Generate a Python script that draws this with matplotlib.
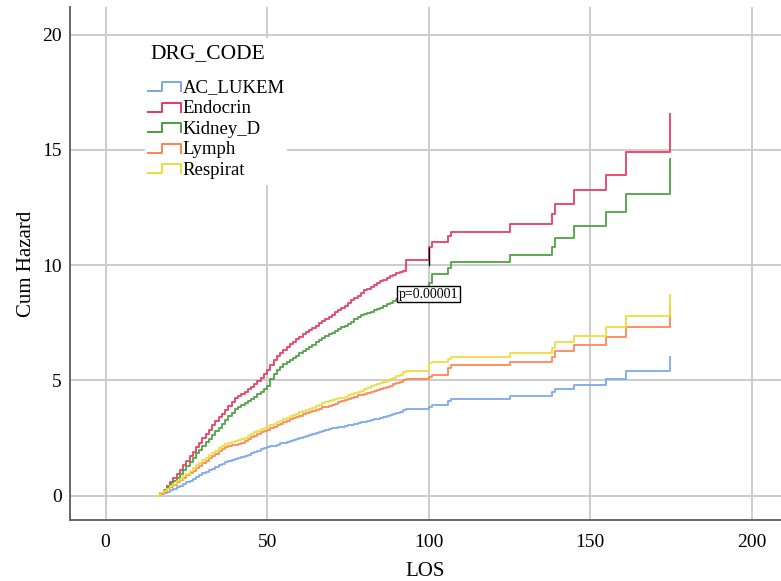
"""Cumulative hazard by DRG code (step curves)."""

import matplotlib

matplotlib.use("Agg")
import matplotlib.pyplot as plt
from matplotlib.legend_handler import HandlerBase
from matplotlib.lines import Line2D
from matplotlib.patches import Rectangle

plt.rcParams["font.family"] = ["Liberation Serif", "DejaVu Serif"]

# step times: daily up to day 93, then the sparse tail
los = list(range(16, 94)) + [100, 101, 106, 107, 125, 138, 139, 145, 155, 161, 174.6]

ac_lukem = [0, 0.06, 0.12, 0.18, 0.24, 0.3, 0.37, 0.43, 0.5, 0.58,
            0.66, 0.74, 0.82, 0.9, 0.97, 1.03, 1.1, 1.18, 1.25, 1.33,
            1.4, 1.45, 1.5, 1.55, 1.6, 1.64, 1.68, 1.73, 1.78, 1.84,
            1.9, 1.96, 2.02, 2.06, 2.1, 2.14, 2.18, 2.22, 2.27, 2.31,
            2.35, 2.39, 2.43, 2.48, 2.52, 2.56, 2.6, 2.65, 2.7, 2.74,
            2.78, 2.82, 2.86, 2.89, 2.92, 2.95, 2.97, 3.0, 3.03, 3.05,
            3.08, 3.11, 3.14, 3.18, 3.22, 3.25, 3.28, 3.31, 3.35, 3.38,
            3.42, 3.46, 3.5, 3.55, 3.6, 3.65, 3.7, 3.75,
            3.87, 3.95, 4.09, 4.18, 4.31, 4.48, 4.63, 4.81, 5.06, 5.42, 6.0]
endocrin = [0, 0.12, 0.25, 0.42, 0.6, 0.76, 0.93, 1.13, 1.33, 1.52,
            1.73, 1.92, 2.12, 2.3, 2.5, 2.68, 2.87, 3.06, 3.25, 3.4,
            3.55, 3.73, 3.9, 4.06, 4.22, 4.32, 4.42, 4.52, 4.62, 4.73,
            4.85, 4.98, 5.12, 5.28, 5.45, 5.68, 5.9, 6.05, 6.2, 6.33,
            6.45, 6.58, 6.69, 6.8, 6.9, 7.0, 7.1, 7.2, 7.28, 7.38,
            7.48, 7.58, 7.68, 7.76, 7.85, 7.95, 8.05, 8.15, 8.25, 8.36,
            8.48, 8.56, 8.65, 8.8, 8.93, 8.99, 9.05, 9.14, 9.22, 9.3,
            9.38, 9.45, 9.52, 9.59, 9.65, 9.7, 9.75, 10.23,
            10.8, 11.0, 11.25, 11.46, 11.8, 12.2, 12.65, 13.27, 13.9, 14.9, 16.55]
kidney_d = [0, 0.1, 0.22, 0.36, 0.5, 0.64, 0.78, 0.95, 1.12, 1.3,
            1.48, 1.66, 1.84, 2.0, 2.15, 2.32, 2.48, 2.65, 2.82, 2.96,
            3.1, 3.28, 3.45, 3.6, 3.75, 3.85, 3.95, 4.04, 4.12, 4.21,
            4.3, 4.4, 4.5, 4.62, 4.75, 5.05, 5.3, 5.45, 5.6, 5.7,
            5.8, 5.89, 5.97, 6.08, 6.18, 6.28, 6.38, 6.46, 6.55, 6.65,
            6.75, 6.85, 6.95, 7.02, 7.08, 7.15, 7.22, 7.3, 7.38, 7.46,
            7.55, 7.65, 7.75, 7.82, 7.88, 7.93, 7.97, 8.04, 8.1, 8.16,
            8.22, 8.3, 8.38, 8.46, 8.53, 8.56, 8.58, 8.6,
            9.22, 9.63, 9.87, 10.12, 10.45, 10.77, 11.2, 11.68, 12.3, 13.1, 14.6]
lymph = [0, 0.09, 0.18, 0.28, 0.38, 0.48, 0.58, 0.68, 0.78, 0.88,
         0.98, 1.09, 1.2, 1.31, 1.42, 1.52, 1.62, 1.72, 1.83, 1.94,
         2.05, 2.1, 2.15, 2.19, 2.22, 2.25, 2.28, 2.37, 2.45, 2.53,
         2.6, 2.68, 2.75, 2.8, 2.85, 2.92, 2.98, 3.05, 3.12, 3.19,
         3.25, 3.31, 3.37, 3.42, 3.48, 3.53, 3.58, 3.63, 3.68, 3.73,
         3.78, 3.83, 3.87, 3.91, 3.95, 4.0, 4.05, 4.1, 4.15, 4.2,
         4.25, 4.3, 4.36, 4.39, 4.42, 4.45, 4.48, 4.53, 4.58, 4.62,
         4.66, 4.72, 4.78, 4.84, 4.9, 4.95, 5.0, 5.05,
         5.17, 5.25, 5.54, 5.68, 5.82, 6.04, 6.29, 6.55, 6.88, 7.34, 8.18]
respirat = [0, 0.1, 0.2, 0.31, 0.42, 0.52, 0.63, 0.74, 0.85, 0.96,
            1.08, 1.2, 1.32, 1.44, 1.55, 1.65, 1.75, 1.85, 1.95, 2.07,
            2.18, 2.24, 2.3, 2.34, 2.38, 2.41, 2.45, 2.52, 2.6, 2.68,
            2.75, 2.83, 2.9, 2.95, 3.0, 3.06, 3.12, 3.18, 3.25, 3.32,
            3.38, 3.44, 3.5, 3.56, 3.62, 3.67, 3.72, 3.77, 3.82, 3.88,
            3.95, 4.02, 4.08, 4.12, 4.15, 4.18, 4.22, 4.26, 4.3, 4.35,
            4.4, 4.45, 4.5, 4.56, 4.62, 4.68, 4.75, 4.79, 4.83, 4.87,
            4.92, 4.98, 5.05, 5.12, 5.18, 5.26, 5.35, 5.42,
            5.75, 5.8, 5.94, 6.02, 6.2, 6.4, 6.65, 6.94, 7.3, 7.8, 8.7]

groups = ["AC_LUKEM", "Endocrin", "Kidney_D", "Lymph", "Respirat"]
colors = ["#7aa7e9", "#e6395e", "#4b9e3e", "#ff8352", "#ebde3a"]

p_text = "p=0.00001"
p_pos = (100, 8.75)
p_tick = (100, 10.0, 10.75)  # short black mark at the step


class StepHandler(HandlerBase):
    def create_artists(self, legend, orig_handle, xdescent, ydescent, width, height, fontsize, trans):
        lo, hi = 0.1 * height - ydescent, 0.8 * height - ydescent
        x0, xm, x1 = -xdescent, 0.42 * width - xdescent, width - xdescent
        line = Line2D([x0, xm, xm, x1, x1], [lo, lo, hi, hi, lo],
                      color=orig_handle.get_color(), lw=1.4, transform=trans)
        return [line]


fig = plt.figure(figsize=(7.81, 5.81), dpi=100)
ax = fig.add_axes([0.0896, 0.105, 0.9104, 0.883])

series = [ac_lukem, endocrin, kidney_d, lymph, respirat]
handles = []
for name, ys, c in zip(groups, series, colors):
    assert len(ys) == len(los), name
    (h,) = ax.plot(los, ys, drawstyle="steps-post", color=c, lw=1.4, alpha=0.9, label=name, zorder=3)
    handles.append(h)

ax.plot([p_tick[0], p_tick[0]], [p_tick[1], p_tick[2]], color="black", lw=1.0, zorder=4)
ax.text(p_pos[0], p_pos[1], p_text, fontsize=10, ha="center", va="center", zorder=5,
        bbox=dict(boxstyle="square,pad=0.12", fc="white", ec="black", lw=1.0))

ax.set_xlim(-11, 209)
ax.set_ylim(-1.05, 21.2)
ax.set_xticks([0, 50, 100, 150, 200])
ax.set_yticks([0, 5, 10, 15, 20])
ax.grid(True, color="#cccccc", lw=1.4)
ax.set_axisbelow(True)
ax.tick_params(length=0, labelsize=14)
ax.tick_params(axis="x", pad=10)
ax.tick_params(axis="y", pad=6)
for side in ("top", "right"):
    ax.spines[side].set_visible(False)
for side in ("left", "bottom"):
    ax.spines[side].set_color("#666666")
    ax.spines[side].set_linewidth(1.4)
ax.set_xlabel("LOS", fontsize=15, labelpad=8)
ax.set_ylabel("Cum Hazard", fontsize=15, labelpad=4)

# white legend panel hiding the grid, title drawn separately for spacing
ax.add_patch(Rectangle((0.1055, 0.653), 0.1995, 0.2866, transform=ax.transAxes,
                       facecolor="white", edgecolor="none", zorder=2))
ax.text(0.1125, 0.910, "DRG_CODE", transform=ax.transAxes, fontsize=15.5,
        ha="left", va="center", zorder=4)
ax.legend(handles=handles, loc="upper left", bbox_to_anchor=(0.1097, 0.8587),
          handler_map={Line2D: StepHandler()}, fontsize=13.5, frameon=False,
          handlelength=1.75, handletextpad=0.1, labelspacing=0.18,
          borderpad=0, borderaxespad=0)

fig.savefig("out.png", dpi=100)
